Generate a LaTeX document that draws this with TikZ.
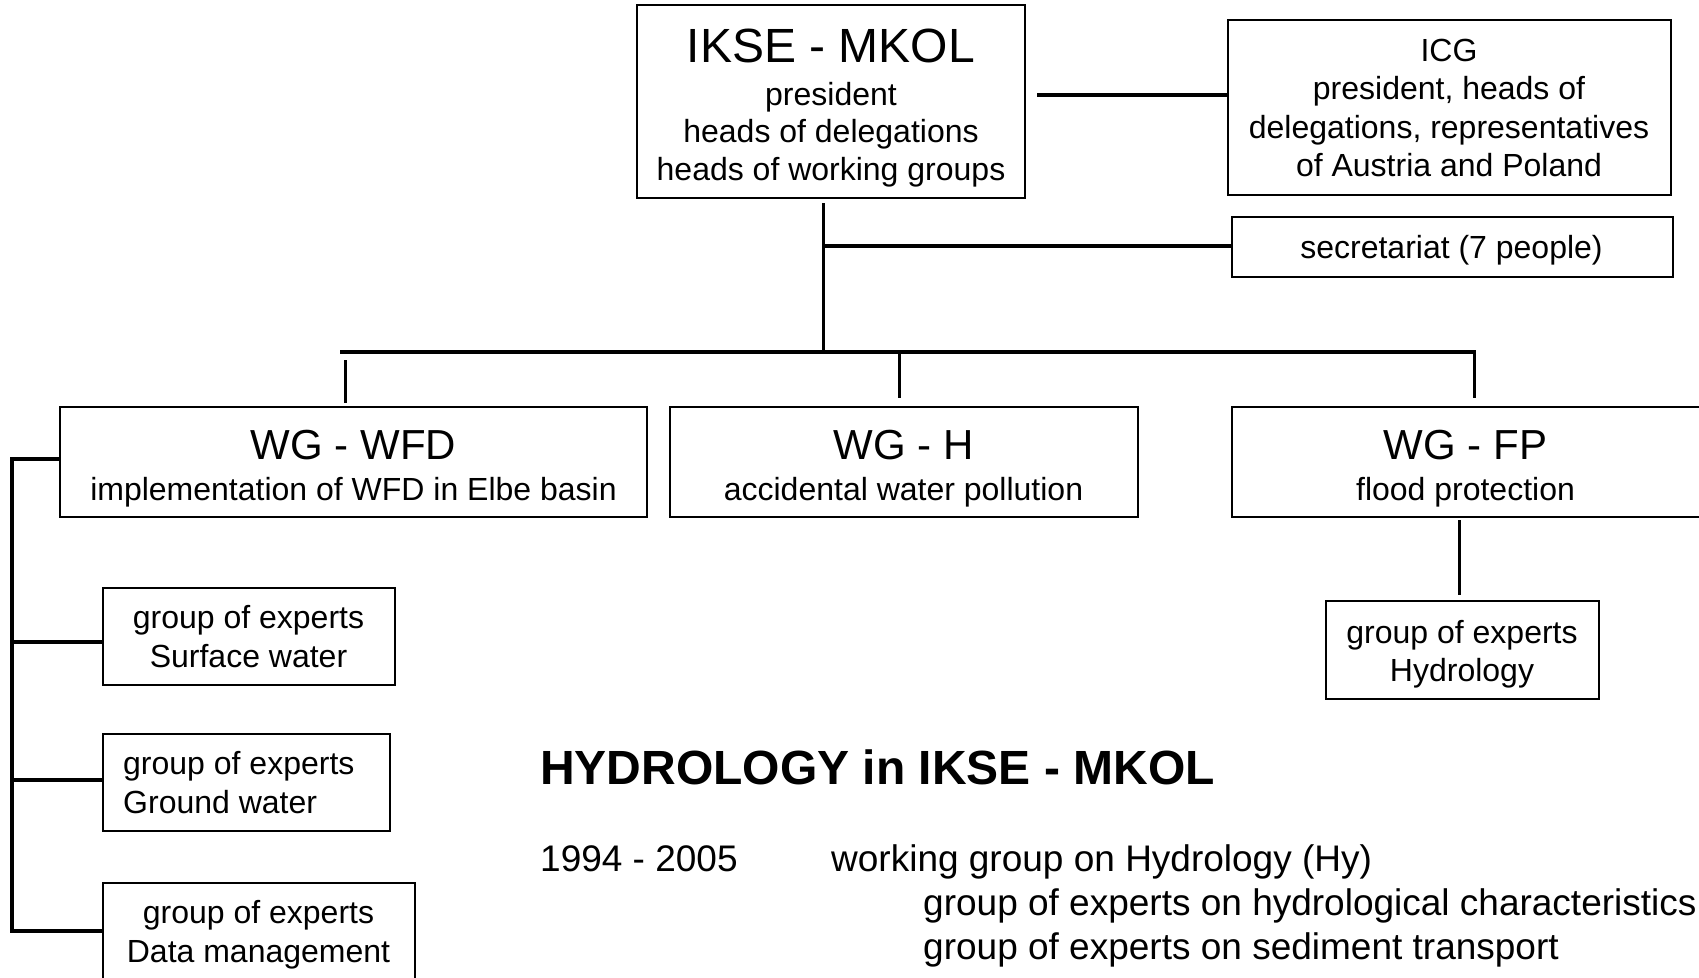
\documentclass[tikz,border=0pt]{standalone}
\usepackage{fontspec}
\setmainfont{Liberation Sans}
\begin{document}
\begin{tikzpicture}[x=1pt,y=-1pt,
  box/.style={draw, line width=2.5pt, inner sep=0pt, outer sep=0pt},
  conn/.style={line width=3.5pt, line join=miter},
  drop/.style={line width=3pt},
  txt/.style={anchor=base, inner sep=0pt, font=\fontsize{32}{38}\selectfont},
  bigtxt/.style={txt, font=\fontsize{48}{48}\selectfont},
  wgtxt/.style={txt, font=\fontsize{42}{42}\selectfont},
  lowtxt/.style={anchor=base west, inner sep=0pt, font=\fontsize{37}{44}\selectfont},
  headtxt/.style={anchor=base west, inner sep=0pt, font=\fontsize{48}{48}\selectfont\bfseries},
]
\useasboundingbox (0,0) rectangle (1699,977);
\clip (0,0) rectangle (1699,977);

% boxes
\node[box, minimum width=388pt, minimum height=193pt] (ikse) at (831,101.5) {};
\node[box, minimum width=443pt, minimum height=175pt] (icg) at (1449.5,107.5) {};
\node[box, minimum width=441pt, minimum height=60pt] (sec) at (1452.5,247) {};
\node[box, minimum width=587pt, minimum height=110pt] (wfd) at (353.5,462) {};
\node[box, minimum width=468pt, minimum height=110pt] (wgh) at (904,462) {};
\node[box, minimum width=468pt, minimum height=110pt] (wfp) at (1466,462) {};
\node[box, minimum width=273pt, minimum height=98pt] (hyd) at (1462.5,650) {};
\node[box, minimum width=292pt, minimum height=97pt] (sw) at (249,636.5) {};
\node[box, minimum width=287pt, minimum height=97pt] (gw) at (246.5,782.5) {};
\node[box, minimum width=312pt, minimum height=97pt] (dm) at (259,931.5) {};

% texts in boxes
\node[bigtxt] (ikse1) at (831,62) {IKSE - MKOL};
\node[txt] (ikse2) at (831,105.5) {president};
\node[txt] (ikse3) at (831,142.5) {heads of delegations};
\node[txt] (ikse4) at (831,180) {heads of working groups};

\node[txt] (icg1) at (1449,61) {ICG};
\node[txt] (icg2) at (1449,99.5) {president, heads of};
\node[txt] (icg3) at (1449,138) {delegations, representatives};
\node[txt] (icg4) at (1449,176.5) {of Austria and Poland};

\node[txt] (sec1) at (1451.5,258) {secretariat (7 people)};

\node[wgtxt] (wfd1) at (353.5,459) {WG - WFD};
\node[txt] (wfd2) at (353.5,500) {implementation of WFD in Elbe basin};
\node[wgtxt] (wgh1) at (903.5,459) {WG - H};
\node[txt] (wgh2) at (903.5,500) {accidental water pollution};
\node[wgtxt] (wfp1) at (1465.5,459) {WG - FP};
\node[txt] (wfp2) at (1465.5,500) {flood protection};

\node[txt] (hyd1) at (1462,643) {group of experts};
\node[txt] (hyd2) at (1462,681) {Hydrology};

\node[txt] (sw1) at (248.5,628) {group of experts};
\node[txt] (sw2) at (248.5,667) {Surface water};
\node[txt, anchor=base west] (gw1) at (123,774.5) {group of experts};
\node[txt, anchor=base west] (gw2) at (123,813.5) {Ground water};
\node[txt] (dm1) at (258.5,923.5) {group of experts};
\node[txt] (dm2) at (258.5,962.5) {Data management};

% bottom text
\node[headtxt] (head) at (540,784) {HYDROLOGY in IKSE - MKOL};
\node[lowtxt] (yr) at (540,871) {1994 - 2005};
\node[lowtxt] (wgy) at (831,871) {working group on Hydrology (Hy)};
\node[lowtxt] (ge1) at (923,915) {group of experts on hydrological characteristics};
\node[lowtxt] (ge2) at (923,959) {group of experts on sediment transport};

% connectors
\coordinate (icgj) at (1037,95);
\draw[conn] (icgj) -- (icgj -| icg.west);

\coordinate (tt) at (823,203);
\coordinate (tb) at (823,352);
\draw[drop] (tt) -- (tb);
\coordinate (sj) at (823,246);
\draw[conn] (sj) -- (sj -| sec.west);

\coordinate (bl) at (340,352);
\coordinate (br) at (1476,352);
\draw[conn] (bl) -- (br);

\coordinate (d1) at (345,360);
\coordinate (d2) at (899,354);
\coordinate (d3) at (1474,352);
\draw[drop, shorten >=4pt] (d1) -- (d1 |- wfd.north);
\draw[drop, shorten >=9pt] (d2) -- (d2 |- wgh.north);
\draw[drop, shorten >=9pt] (d3) -- (d3 |- wfp.north);

\coordinate (fpj) at (1459,520);
\draw[drop, shorten >=6pt] (fpj) -- (fpj |- hyd.north);

\coordinate (lb) at (12,459);
\coordinate (bs) at (12,642);
\coordinate (bg) at (12,780);
\coordinate (bd) at (12,931);
\draw[conn] (lb -| wfd.west) -- (lb) -- (bd) -- (bd -| dm.west);
\draw[conn] (bs) -- (bs -| sw.west);
\draw[conn] (bg) -- (bg -| gw.west);
\end{tikzpicture}
\end{document}
